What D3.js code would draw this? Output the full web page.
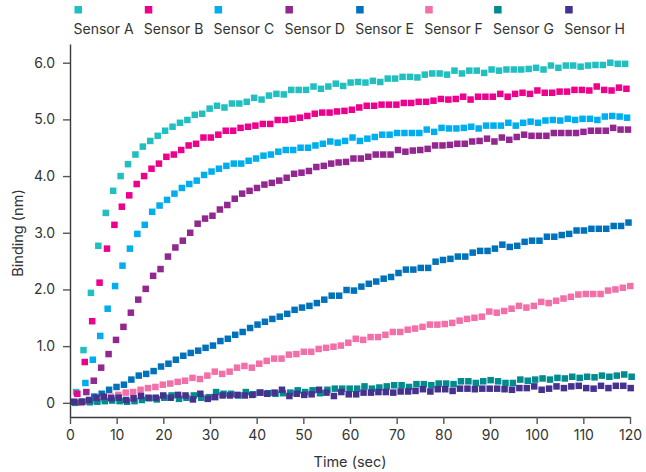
<!DOCTYPE html>
<html><head><meta charset="utf-8">
<script src="https://cdn.jsdelivr.net/npm/d3@7"></script>
<style>
body{margin:0;background:#fff;}
svg{display:block;font-family:Inter,Lato,"Open Sans",sans-serif;}
</style>
</head><body>
<svg id="chart" width="646" height="472"></svg>
<script>
// ---- data ----
const sampleTimes = [1.30,2.89,4.48,6.07,7.66,9.25,10.84,12.43,14.02,15.61,17.20,18.79,20.38,21.97,23.56,25.15,26.74,28.33,29.92,31.51,33.10,34.69,36.28,37.87,39.46,41.05,42.64,44.23,45.82,47.41,49.00,50.59,52.18,53.77,55.36,56.95,58.54,60.13,61.72,63.31,64.90,66.49,68.08,69.67,71.26,72.85,74.44,76.03,77.62,79.21,80.80,82.39,83.98,85.57,87.16,88.75,90.34,91.93,93.52,95.11,96.70,98.29,99.88,101.47,103.06,104.65,106.24,107.83,109.42,111.01,112.60,114.19,115.78,117.37,118.96,120.55];

const sensorNames = ["Sensor A","Sensor B","Sensor C","Sensor D","Sensor E","Sensor F","Sensor G","Sensor H"];
const timeOffsets = [0, 0.27, 2.0, 2.2, 3.9, 1.1, -0.2, -0.4];

const sensorA = [0.19,0.93,1.94,2.77,3.35,3.74,4.00,4.21,4.38,4.52,4.62,4.71,4.80,4.87,4.94,4.99,5.08,5.10,5.19,5.24,5.21,5.28,5.28,5.31,5.38,5.35,5.42,5.45,5.44,5.52,5.52,5.52,5.58,5.54,5.58,5.63,5.59,5.65,5.66,5.65,5.68,5.66,5.72,5.72,5.75,5.75,5.74,5.79,5.81,5.81,5.79,5.86,5.81,5.86,5.86,5.82,5.88,5.86,5.88,5.88,5.88,5.89,5.91,5.88,5.95,5.91,5.95,5.95,5.93,5.95,5.96,5.96,6.00,5.98,5.98];
const sensorB = [0.16,0.72,1.44,2.12,2.72,3.14,3.46,3.66,3.86,4.00,4.13,4.22,4.34,4.38,4.46,4.54,4.57,4.68,4.68,4.73,4.80,4.80,4.85,4.87,4.89,4.92,4.92,4.99,4.99,5.01,5.03,5.06,5.10,5.12,5.12,5.14,5.15,5.17,5.21,5.24,5.24,5.26,5.26,5.26,5.29,5.29,5.31,5.31,5.33,5.36,5.35,5.36,5.40,5.35,5.40,5.40,5.40,5.45,5.40,5.45,5.47,5.45,5.51,5.47,5.47,5.49,5.49,5.52,5.52,5.51,5.58,5.52,5.51,5.56,5.54];
const sensorC = [0.35,0.76,1.18,1.66,2.06,2.42,2.72,2.98,3.14,3.37,3.48,3.58,3.69,3.79,3.86,3.92,4.02,4.08,4.13,4.18,4.22,4.22,4.27,4.31,4.36,4.38,4.43,4.46,4.46,4.50,4.50,4.54,4.57,4.61,4.59,4.62,4.68,4.62,4.66,4.69,4.73,4.73,4.76,4.76,4.76,4.76,4.82,4.78,4.85,4.84,4.84,4.85,4.87,4.84,4.89,4.89,4.89,4.94,4.89,4.94,4.96,4.94,4.98,4.99,4.98,5.01,4.99,5.01,5.01,4.99,5.05,5.06,5.05,5.03];
const sensorD = [0.19,0.39,0.62,0.86,1.11,1.34,1.59,1.82,2.01,2.24,2.36,2.58,2.74,2.86,3.00,3.16,3.25,3.30,3.41,3.49,3.60,3.69,3.74,3.79,3.85,3.88,3.92,3.97,4.04,4.06,4.09,4.16,4.18,4.22,4.24,4.25,4.31,4.31,4.34,4.38,4.38,4.38,4.46,4.43,4.45,4.46,4.48,4.54,4.54,4.55,4.57,4.57,4.61,4.62,4.66,4.61,4.68,4.64,4.69,4.73,4.71,4.71,4.71,4.76,4.76,4.76,4.76,4.78,4.80,4.80,4.80,4.85,4.82,4.82];
const sensorE = [0.11,0.16,0.23,0.28,0.32,0.41,0.48,0.51,0.56,0.64,0.69,0.76,0.83,0.88,0.92,0.97,1.01,1.09,1.13,1.20,1.25,1.32,1.38,1.43,1.48,1.52,1.57,1.64,1.68,1.71,1.76,1.82,1.89,1.89,1.99,1.98,2.05,2.10,2.14,2.19,2.22,2.29,2.35,2.35,2.38,2.38,2.49,2.52,2.54,2.58,2.58,2.65,2.68,2.68,2.72,2.79,2.75,2.77,2.84,2.86,2.86,2.93,2.93,2.96,2.98,3.04,3.04,3.07,3.07,3.07,3.12,3.12,3.18];
const sensorF = [0.00,0.02,0.04,0.07,0.11,0.14,0.18,0.19,0.23,0.26,0.28,0.32,0.34,0.37,0.39,0.44,0.42,0.48,0.55,0.51,0.55,0.62,0.65,0.62,0.69,0.74,0.78,0.78,0.85,0.86,0.90,0.90,0.95,0.97,0.99,1.01,1.06,1.13,1.11,1.16,1.16,1.20,1.25,1.25,1.29,1.31,1.34,1.38,1.38,1.39,1.41,1.45,1.48,1.50,1.52,1.61,1.59,1.62,1.66,1.71,1.68,1.71,1.78,1.76,1.80,1.84,1.87,1.91,1.92,1.92,1.92,1.98,2.00,2.03,2.06];
const sensorG = [0.00,0.02,0.01,0.02,0.03,0.04,0.03,0.02,0.03,0.05,0.08,0.06,0.09,0.13,0.07,0.09,0.13,0.09,0.10,0.19,0.16,0.16,0.13,0.19,0.15,0.18,0.17,0.16,0.17,0.18,0.22,0.19,0.22,0.17,0.23,0.25,0.25,0.25,0.25,0.29,0.25,0.27,0.29,0.31,0.31,0.28,0.33,0.33,0.31,0.34,0.34,0.33,0.38,0.38,0.35,0.38,0.40,0.38,0.35,0.35,0.41,0.39,0.41,0.43,0.41,0.44,0.43,0.46,0.44,0.46,0.45,0.48,0.46,0.48,0.50,0.46];
const sensorH = [0.02,0.02,0.05,0.09,0.11,0.08,0.09,0.05,0.08,0.12,0.09,0.09,0.13,0.09,0.14,0.13,0.06,0.16,0.07,0.10,0.13,0.13,0.14,0.13,0.14,0.18,0.16,0.18,0.23,0.12,0.16,0.14,0.15,0.23,0.18,0.12,0.19,0.15,0.15,0.18,0.18,0.19,0.19,0.18,0.20,0.20,0.21,0.24,0.20,0.24,0.24,0.21,0.25,0.25,0.24,0.25,0.25,0.25,0.24,0.23,0.26,0.26,0.29,0.23,0.25,0.29,0.26,0.29,0.30,0.26,0.25,0.30,0.26,0.30,0.30,0.26];

const xTicks = [0,10,20,30,40,50,60,70,80,90,100,110,120];
const yTicks = [0,1,2,3,4,5,6];

// ---- styling ----
const sensorColors = ["#21BFC0","#EC008C","#00AEEF","#92278F","#0072BC","#F26FA8","#008B8E","#46318F"];
const seriesValues = [sensorA,sensorB,sensorC,sensorD,sensorE,sensorF,sensorG,sensorH];
const fontStack = "Inter, Lato, 'Open Sans', sans-serif";

const svg = d3.select("#chart");
const textColor = "#333";
const x = d3.scaleLinear().domain([0,120]).range([70,630]);
const y = d3.scaleLinear().domain([-0.25,6.33]).range([417,44]);

// axes
const xAxis = d3.axisBottom(x).tickValues(xTicks).tickFormat(d3.format("d"))
  .tickSize(7).tickSizeOuter(0).tickPadding(6);
const yAxis = d3.axisLeft(y).tickValues(yTicks).tickFormat(d => d === 0 ? "0" : d.toFixed(1))
  .tickSize(7).tickSizeOuter(0).tickPadding(8);

const gx = svg.append("g").attr("transform","translate(0,417)").call(xAxis);
const gy = svg.append("g").attr("transform","translate(70,0)").call(yAxis);
[gx,gy].forEach(g => {
  g.select(".domain").attr("stroke","#3a3a3a").attr("stroke-width",1.4);
  g.selectAll(".tick line").attr("stroke","#555").attr("stroke-width",1.4);
  g.selectAll(".tick text").attr("fill",textColor).style("font-size","14px").style("font-family",fontStack);
});

// axis titles
svg.append("text").attr("x",350).attr("y",467).attr("text-anchor","middle")
  .attr("fill",textColor).style("font-size","14.5px").text("Time (sec)");
svg.append("text").attr("transform","translate(23,233) rotate(-90)").attr("text-anchor","middle")
  .attr("fill",textColor).style("font-size","14.5px").text("Binding (nm)");

// points
const markerSize = 6.5;
seriesValues.forEach((vals,si) => {
  const pts = vals.map((v,i) => ({t: sampleTimes[i] + timeOffsets[si], v}));
  svg.append("g").selectAll("rect").data(pts).join("rect")
    .attr("x", d => x(d.t) - markerSize/2)
    .attr("y", d => y(d.v) - markerSize/2)
    .attr("width", markerSize).attr("height", markerSize)
    .attr("fill", sensorColors[si]);
});

// legend
const legend = svg.append("g");
const items = sensorNames.map((name,i) => {
  const g = legend.append("g");
  const t = g.append("text").attr("y",33.5).attr("fill",textColor).style("font-size","14px").text(name);
  return {g, t, w: t.node().getComputedTextLength(), i};
});
const legStart = 73.5, legEnd = 625;
const totalW = d3.sum(items, d => d.w);
const gap = (legEnd - legStart - totalW) / (items.length - 1);
let cx = legStart;
items.forEach(it => {
  it.t.attr("x", cx);
  it.g.append("rect").attr("x", cx + 1).attr("y", 6).attr("width", 7.5).attr("height", 7.5)
    .attr("fill", sensorColors[it.i]);
  cx += it.w + gap;
});
</script>
</body></html>
